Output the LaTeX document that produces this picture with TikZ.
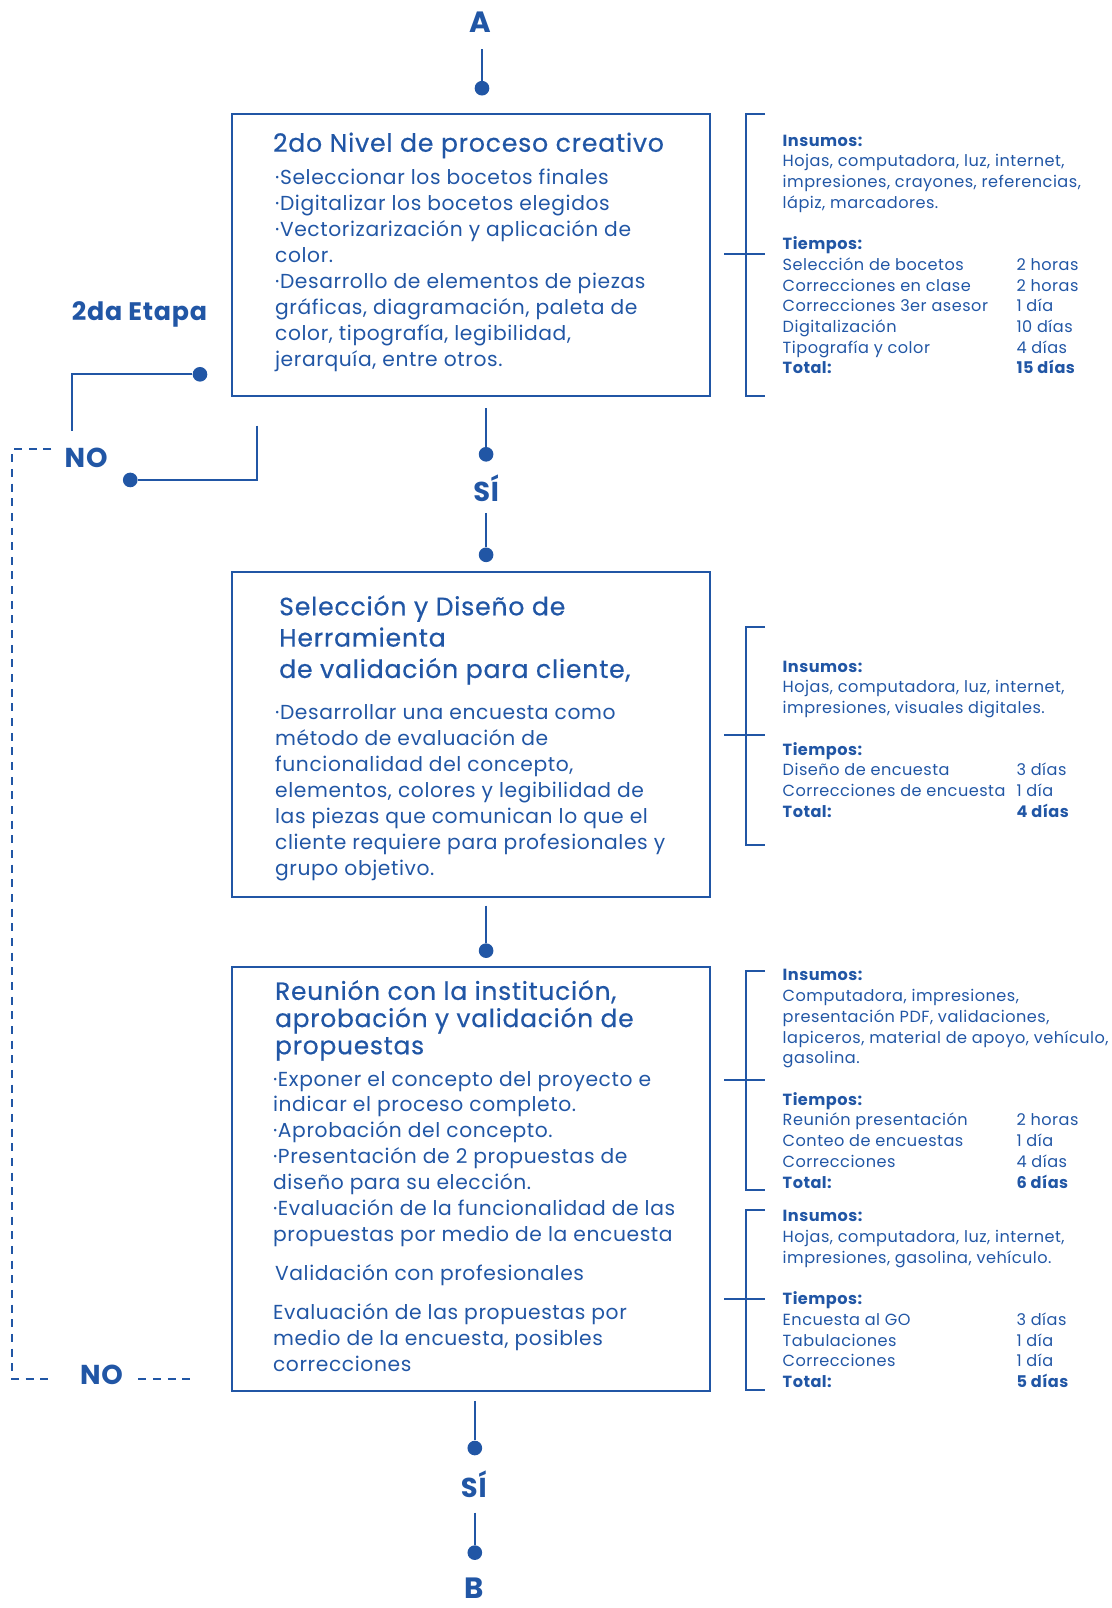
\documentclass[tikz,border=0pt]{standalone}
\usepackage{fontspec}
\setmainfont{Poppins}[LetterSpace=3]
\newfontfamily\medfont{Poppins}[FakeBold=0.5,LetterSpace=3]
\definecolor{azul}{HTML}{2156A5}
\newcommand\fbody{\fontsize{15.2}{19.47}\selectfont}
\newcommand\fside{\fontsize{12.1}{15.54}\selectfont}
\newcommand\ftitA{\medfont\fontsize{18.9}{23.5}\selectfont}
\newcommand\ftitB{\medfont\fontsize{18.7}{20.4}\selectfont}
\newcommand\trow[2]{\makebox[175.4pt][l]{#1}#2}
\begin{document}
\begin{tikzpicture}[x=0.7694pt,y=-0.7694pt,
  boxn/.style={draw=azul, line width=1.5pt, rectangle, inner sep=0pt},
  conn/.style={draw=azul, line width=1.5pt},
  dashc/.style={draw=azul, line width=1.3pt, dash pattern=on 6pt off 5pt},
  dotn/.style={circle, fill=azul, inner sep=0pt, minimum size=11pt},
  big/.style={text=azul, inner sep=0pt, font=\bfseries\fontsize{22}{22}\selectfont},
  mid/.style={text=azul, inner sep=0pt, font=\bfseries\fontsize{20.5}{20.5}\selectfont},
  txt/.style={text=azul, inner sep=0pt, anchor=base west},
  brk/.style={draw=azul, line width=1.5pt}]
\useasboundingbox (0,0) rectangle (1084,1568);

% ---- top A
\node[big] (A) at (468,22) {A};
\coordinate (a1) at (470,48);
\node[dotn] (dA) at (470,86) {};
\draw[conn] (a1) -- (dA);

% ---- box 1
\node[boxn, minimum width=358.5pt, minimum height=211.6pt] (box1) at (459,248.5) {};
\node[txt, font=\ftitA] (t1) at (266,148) {2do Nivel de proceso creativo};
\node[txt, font=\fbody] (b1) at (268,180) {\begin{tabular}[t]{@{}l@{}}
·Seleccionar los bocetos finales\\
·Digitalizar los bocetos elegidos\\
·Vectorizarización y aplicación de\\
color.\\
·Desarrollo de elementos de piezas\\
gráficas, diagramación, paleta de\\
color, tipografía, legibilidad,\\
jerarquía, entre otros.
\end{tabular}};

% ---- left loop
\node[text=azul, inner sep=0pt, font=\bfseries\fontsize{19}{19}\selectfont] (etapa) at (136,307) {2da Etapa};
\node[dotn] (dL1) at (195,365) {};
\coordinate (l1) at (70,420);
\draw[conn] (l1) |- (dL1);
\node[mid] (no1) at (84,446) {NO};
\node[dotn] (dL2) at (127,468) {};
\coordinate (l2) at (251,415);
\draw[conn] (l2) |- (dL2);

% ---- SI 1
\coordinate (s1a) at (474,398);
\node[dotn] (dS1) at (474,443) {};
\draw[conn] (s1a) -- (dS1);
\node[mid] (si1) at (474,476) {SÍ};
\coordinate (s1b) at (474,500);
\node[dotn] (dS2) at (474,541) {};
\draw[conn] (s1b) -- (dS2);

% ---- box 2
\node[boxn, minimum width=358.5pt, minimum height=243.9pt] (box2) at (459,716.5) {};
\node[txt, font=\ftitA] (t2) at (272,600) {\begin{tabular}[t]{@{}l@{}}
\smash{Selección y Diseño de}\\
\smash{Herramienta}\\
\smash{de validación para cliente,}
\end{tabular}};
\node[txt, font=\fbody] (b2) at (268,702) {\begin{tabular}[t]{@{}l@{}}
·Desarrollar una encuesta como\\
método de evaluación de\\
funcionalidad del concepto,\\
elementos, colores y legibilidad de\\
las piezas que comunican lo que el\\
cliente requiere para profesionales y\\
grupo objetivo.
\end{tabular}};

\coordinate (s2a) at (474,883);
\node[dotn] (dS3) at (474,927) {};
\draw[conn] (s2a) -- (dS3);

% ---- box 3
\node[boxn, minimum width=358.5pt, minimum height=317.8pt] (box3) at (459,1149.5) {};
\node[txt, font=\ftitB] (t3) at (268,975) {\begin{tabular}[t]{@{}l@{}}
\smash{Reunión con la institución,}\\
\smash{aprobación y validación de}\\
\smash{propuestas}
\end{tabular}};
\node[txt, font=\fbody] (b3) at (266,1059) {\begin{tabular}[t]{@{}l@{}}
·Exponer el concepto del proyecto e\\
indicar el proceso completo.\\
·Aprobación del concepto.\\
·Presentación de 2 propuestas de\\
diseño para su elección.\\
·Evaluación de la funcionalidad de las\\
propuestas por medio de la encuesta
\end{tabular}};
\node[txt, font=\fbody] (b3v) at (268,1249) {Validación con profesionales};
\node[txt, font=\fbody] (b3e) at (266,1287) {\begin{tabular}[t]{@{}l@{}}
Evaluación de las propuestas por\\
medio de la encuesta, posibles\\
correcciones
\end{tabular}};

% ---- dashed NO loop
\coordinate (n1) at (50,438);
\coordinate (n2) at (47,1345);
\draw[dashc] (n1) -- (12,438) -- (12,1345) -- (n2);
\node[mid] (no2) at (99,1341) {NO};
\coordinate (n3) at (135,1345);
\coordinate (n4) at (187,1345);
\draw[dashc] (n3) -- (n4);

% ---- bottom
\coordinate (s3a) at (463,1366);
\node[dotn] (dS4) at (463,1412) {};
\draw[conn] (s3a) -- (dS4);
\node[mid] (si2) at (462,1447) {SÍ};
\coordinate (s3b) at (463,1475);
\node[dotn] (dS5) at (463,1514) {};
\draw[conn] (s3b) -- (dS5);
\node[big] (B) at (462,1549) {B};

% ---- brackets
\draw[brk] (746,111) -- (727,111) -- (727,386) -- (746,386);
\draw[brk] (706,248) -- (746,248);
\draw[brk] (746,611) -- (727,611) -- (727,824) -- (746,824);
\draw[brk] (706,717) -- (746,717);
\draw[brk] (746,947) -- (727,947) -- (727,1160) -- (746,1160);
\draw[brk] (706,1053) -- (746,1053);
\draw[brk] (746,1180) -- (727,1180) -- (727,1355) -- (746,1355);
\draw[brk] (706,1267) -- (746,1267);

% ---- side texts
\node[txt, font=\fside] (r1) at (763,142.5) {\begin{tabular}[t]{@{}l@{}}
\textbf{Insumos:}\\
Hojas, computadora, luz, internet,\\
impresiones, crayones, referencias,\\
lápiz, marcadores.\\
\\
\textbf{Tiempos:}\\
\trow{Selección de bocetos}{2 horas}\\
\trow{Correcciones en clase}{2 horas}\\
\trow{Correcciones 3er asesor}{1 día}\\
\trow{Digitalización}{10 días}\\
\trow{Tipografía y color}{4 días}\\
\trow{\textbf{Total:}}{\textbf{15 días}}
\end{tabular}};

\node[txt, font=\fside] (r2) at (763,655.5) {\begin{tabular}[t]{@{}l@{}}
\textbf{Insumos:}\\
Hojas, computadora, luz, internet,\\
impresiones, visuales digitales.\\
\\
\textbf{Tiempos:}\\
\trow{Diseño de encuesta}{3 días}\\
\trow{Correcciones de encuesta}{1 día}\\
\trow{\textbf{Total:}}{\textbf{4 días}}
\end{tabular}};

\node[txt, font=\fside] (r3) at (763,956.5) {\begin{tabular}[t]{@{}l@{}}
\textbf{Insumos:}\\
Computadora, impresiones,\\
presentación PDF, validaciones,\\
lapiceros, material de apoyo, vehículo,\\
gasolina.\\
\\
\textbf{Tiempos:}\\
\trow{Reunión presentación}{2 horas}\\
\trow{Conteo de encuestas}{1 día}\\
\trow{Correcciones}{4 días}\\
\trow{\textbf{Total:}}{\textbf{6 días}}
\end{tabular}};

\node[txt, font=\fside] (r4) at (763,1191.5) {\begin{tabular}[t]{@{}l@{}}
\textbf{Insumos:}\\
Hojas, computadora, luz, internet,\\
impresiones, gasolina, vehículo.\\
\\
\textbf{Tiempos:}\\
\trow{Encuesta al GO}{3 días}\\
\trow{Tabulaciones}{1 día}\\
\trow{Correcciones}{1 día}\\
\trow{\textbf{Total:}}{\textbf{5 días}}
\end{tabular}};
\end{tikzpicture}
\end{document}
